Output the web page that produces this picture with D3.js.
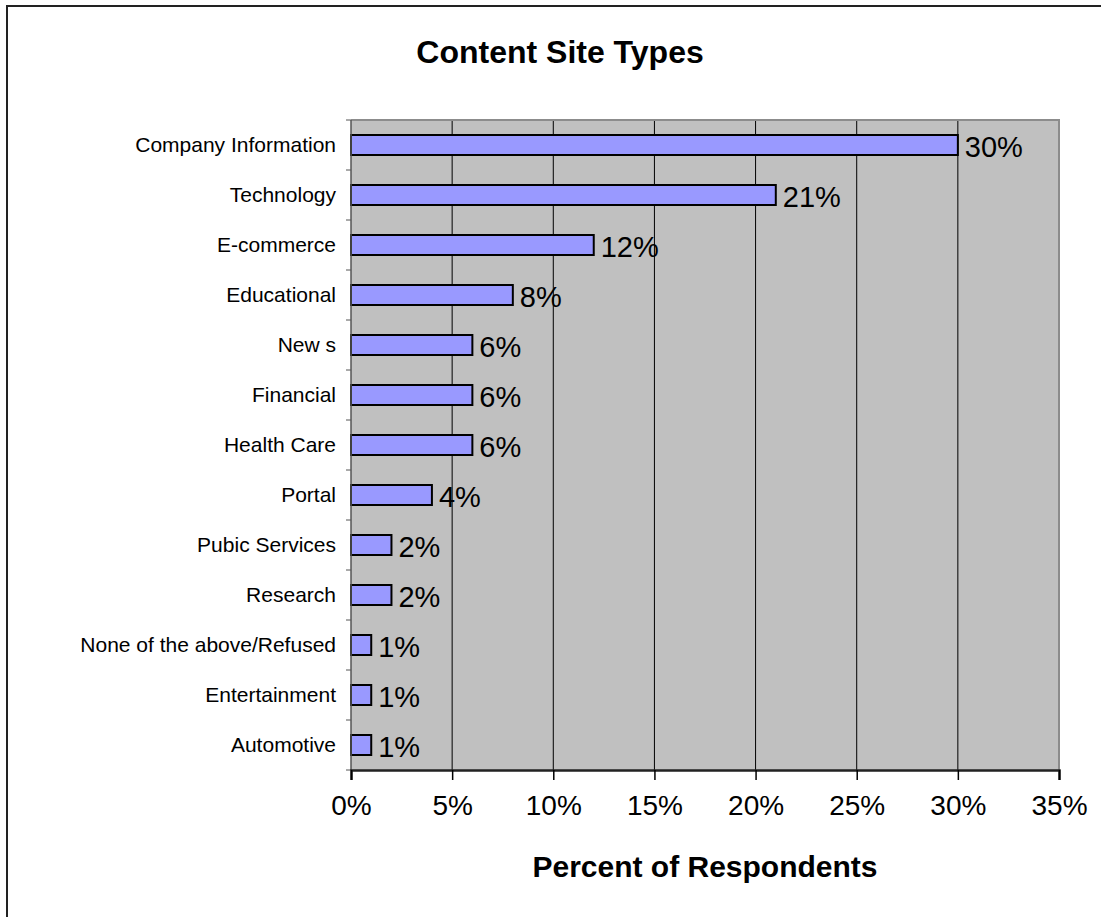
<!DOCTYPE html>
<html>
<head>
<meta charset="utf-8">
<script src="https://cdn.jsdelivr.net/npm/d3@7"></script>
<style>
  html, body { margin: 0; padding: 0; background: #fff; }
  svg { display: block; }
  text { font-family: "Liberation Sans", Arial, sans-serif; fill: #000; }
</style>
</head>
<body>
<svg id="chart" width="1101" height="917"></svg>
<script>
// Site categories, top to bottom, and their share of respondents (%)
const categories = [
  "Company Information", "Technology", "E-commerce", "Educational", "New s",
  "Financial", "Health Care", "Portal", "Pubic Services", "Research",
  "None of the above/Refused", "Entertainment", "Automotive"
];
const values = [30, 21, 12, 8, 6, 6, 6, 4, 2, 2, 1, 1, 1];
const xTicks = [0, 5, 10, 15, 20, 25, 30, 35];
const title = "Content Site Types";
const xTitle = "Percent of Respondents";

const svg = d3.select("#chart");

// chart area frame
svg.append("path")
  .attr("d", "M7,1000 V6 H1200")
  .attr("fill", "none")
  .attr("stroke", "#222")
  .attr("stroke-width", 2);

const plot = { left: 351, right: 1059, top: 120, bottom: 770 };

const x = d3.scaleLinear().domain([0, 35]).range([plot.left, plot.right]);
const y = d3.scaleBand().domain(categories).range([plot.top, plot.bottom]).paddingInner(0.6).paddingOuter(0.3);
const band = d3.scaleBand().domain(categories).range([plot.top, plot.bottom]);

// plot background
svg.append("rect")
  .attr("x", plot.left).attr("y", plot.top)
  .attr("width", plot.right - plot.left).attr("height", plot.bottom - plot.top)
  .attr("fill", "#C0C0C0");

// vertical gridlines
svg.append("g").selectAll("line")
  .data(xTicks.filter(t => t > 0 && t < 35))
  .join("line")
  .attr("x1", d => x(d)).attr("x2", d => x(d))
  .attr("y1", plot.top).attr("y2", plot.bottom)
  .attr("stroke", "#000").attr("stroke-width", 1);

// plot border (top and right in gray)
svg.append("path")
  .attr("d", `M${plot.left},${plot.top} H${plot.right} V${plot.bottom}`)
  .attr("fill", "none").attr("stroke", "#8c8c8c").attr("stroke-width", 2);

// bars
svg.append("g").selectAll("rect")
  .data(values)
  .join("rect")
  .attr("x", x(0))
  .attr("y", (d, i) => y(categories[i]))
  .attr("width", d => x(d) - x(0))
  .attr("height", y.bandwidth())
  .attr("fill", "#9999FF")
  .attr("stroke", "#000")
  .attr("stroke-width", 2);

// value labels
svg.append("g").selectAll("text")
  .data(values)
  .join("text")
  .attr("x", d => x(d) + 7)
  .attr("y", (d, i) => y(categories[i]) + y.bandwidth() / 2 + 12)
  .attr("font-size", 29)
  .text(d => d + "%");

// y axis: ticks at band boundaries, labels centred on bars
const yAxis = svg.append("g");
yAxis.append("line")
  .attr("x1", plot.left).attr("x2", plot.left)
  .attr("y1", plot.top).attr("y2", plot.bottom)
  .attr("stroke", "#555").attr("stroke-width", 1.5);
yAxis.selectAll("line.tick")
  .data(d3.range(categories.length + 1))
  .join("line")
  .attr("class", "tick")
  .attr("x1", plot.left - 5).attr("x2", plot.left)
  .attr("y1", i => i < categories.length ? band(categories[i]) : plot.bottom)
  .attr("y2", i => i < categories.length ? band(categories[i]) : plot.bottom)
  .attr("stroke", "#555").attr("stroke-width", 1);
yAxis.selectAll("text")
  .data(categories)
  .join("text")
  .attr("x", plot.left - 15)
  .attr("y", d => y(d) + y.bandwidth() / 2 + 7)
  .attr("text-anchor", "end")
  .attr("font-size", 21)
  .text(d => d);

// x axis
const xAxis = d3.axisBottom(x)
  .tickValues(xTicks)
  .tickSize(10)
  .tickPadding(15)
  .tickFormat(d => d + "%");
const gx = svg.append("g")
  .attr("transform", `translate(0,${plot.bottom})`)
  .call(xAxis);
gx.select(".domain").attr("stroke", "#222").attr("stroke-width", 2.5);
gx.selectAll(".tick line").attr("stroke", "#000").attr("stroke-width", 1.5);
gx.selectAll(".tick text")
  .attr("font-size", 28)
  .attr("font-family", "Liberation Sans, Arial, sans-serif")
  .attr("fill", "#000");

// titles
svg.append("text")
  .attr("x", 560).attr("y", 63)
  .attr("text-anchor", "middle")
  .attr("font-size", 32).attr("font-weight", "bold")
  .text(title);

svg.append("text")
  .attr("x", x(17.5)).attr("y", 877)
  .attr("text-anchor", "middle")
  .attr("font-size", 30).attr("font-weight", "bold")
  .text(xTitle);
</script>
</body>
</html>
